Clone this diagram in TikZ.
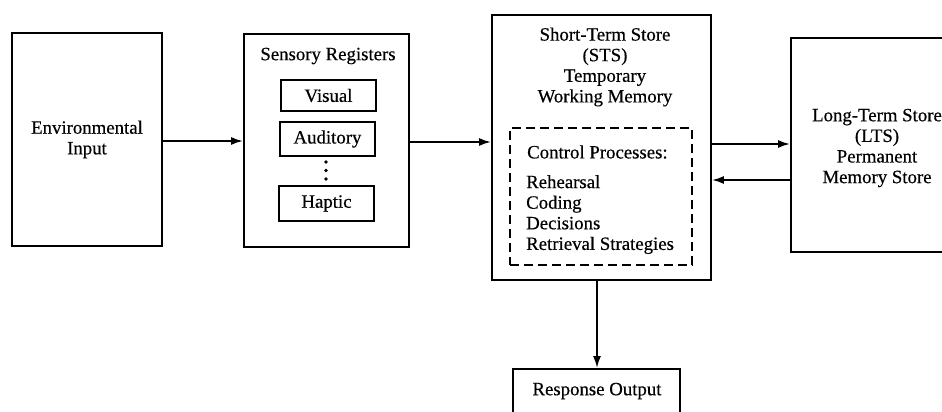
\documentclass[tikz,border=0pt]{standalone}
\usepackage{fontspec}
\setmainfont{Liberation Serif}
\usetikzlibrary{arrows.meta}
\tikzset{
  box/.style={draw, line width=1.8pt, inner sep=0pt},
  lbl/.style={inner sep=0pt, align=center, font=\fontsize{18.8}{20.6}\selectfont\addfontfeature{FakeBold=0.4}},
  arr/.style={line width=2pt, -{Latex[length=12pt,width=8pt]}},
  dashbox/.style={draw, line width=1.5pt, dash pattern=on 9pt off 5pt, inner sep=0pt},
  dotmark/.style={circle, fill, inner sep=0pt, minimum size=3.6pt}
}
\begin{document}
\begin{tikzpicture}[x=1pt, y=-1pt]
\clip (0,0) rectangle (942,412);
\fill[white] (0,0) rectangle (942,412);

% Environmental input
\node[box, minimum width=150pt, minimum height=213pt, lbl] (env) at (87,139.5) {Environmental\\Input};

% Sensory registers
\node[box, minimum width=165pt, minimum height=213pt] (sens) at (326.5,140.5) {};
\node[lbl] (senst) at (328,56) {Sensory Registers};
\node[box, minimum width=95pt, minimum height=31pt, lbl] (vis) at (328.5,95.5) {Visual};
\node[box, minimum width=95pt, minimum height=34pt, lbl] (aud) at (327.5,139) {Auditory};
\node[box, minimum width=95pt, minimum height=35pt, lbl] (hap) at (326.5,203.5) {Haptic};
\node[dotmark] (d1) at (326,162) {};
\node[dotmark] (d2) at (326,170.5) {};
\node[dotmark] (d3) at (326,179) {};

% Short-term store
\node[box, minimum width=219pt, minimum height=265pt] (sts) at (601.5,147.5) {};
\node[lbl] (stst) at (605,67) {Short-Term Store\\(STS)\\Temporary\\Working Memory};
\node[dashbox, minimum width=182pt, minimum height=137pt] (ctrl) at (601,196.5) {};
\node[lbl, anchor=west] (ctrlt) at (527,152) {Control Processes:};
\node[lbl, align=left, anchor=west] (ctrll) at (526,214.5) {Rehearsal\\Coding\\Decisions\\Retrieval Strategies};

% Long-term store
\node[box, minimum width=190pt, minimum height=214pt] (lts) at (886,145) {};
\node[lbl] (ltst) at (877,148) {Long-Term Store\\(LTS)\\Permanent\\Memory Store};

% Response output
\node[box, minimum width=167pt, minimum height=45pt] (resp) at (596.5,391.5) {};
\node[lbl] (respt) at (597,391) {Response Output};

% Connectors
\draw[arr] (env.east |- 0,141) -- (sens.west |- 0,141);
\draw[arr] (sens.east |- 0,142) -- (sts.west |- 0,142);
\draw[arr] (sts.east |- 0,144) -- (lts.west |- 0,144);
\draw[arr] (lts.west |- 0,180) -- (sts.east |- 0,180);
\draw[arr] (sts.south -| 597,0) -- (resp.north -| 597,0);
\end{tikzpicture}
\end{document}
